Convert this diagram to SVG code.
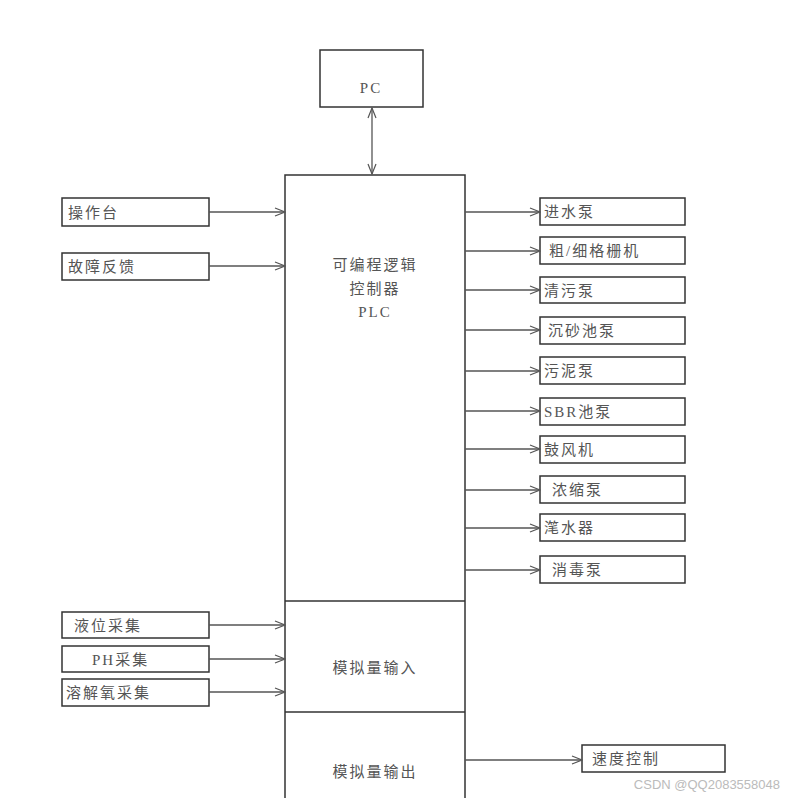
<svg xmlns="http://www.w3.org/2000/svg" width="796" height="798" viewBox="0 0 796 798">
<style>
.b{fill:#fff;stroke:#333;stroke-width:1.5}
.t{font-family:"Liberation Serif","Noto Sans CJK SC",serif;font-size:15px;fill:#555;letter-spacing:2px}
.c line{stroke:#555;stroke-width:1.3}
</style>
<defs><marker id="a" markerWidth="12" markerHeight="10" refX="11" refY="5" orient="auto-start-reverse" markerUnits="userSpaceOnUse"><path d="M1,1 L11,5 L1,9" fill="none" stroke="#555" stroke-width="1.2"/></marker></defs>
<rect width="796" height="798" fill="#fff"/>
<g id="pc"><rect class="b" x="320" y="50" width="103" height="57"/><text class="t" x="371" y="93" text-anchor="middle">PC</text></g>
<g id="plc"><rect class="b" x="285" y="175" width="180" height="640"/>
<line x1="285" y1="601" x2="465" y2="601" stroke="#333" stroke-width="1.5"/>
<line x1="285" y1="712" x2="465" y2="712" stroke="#333" stroke-width="1.5"/>
<text class="t" x="375" y="270" text-anchor="middle">可编程逻辑</text>
<text class="t" x="375" y="294" text-anchor="middle">控制器</text>
<text class="t" x="375" y="317" text-anchor="middle">PLC</text>
<text class="t" x="375" y="673" text-anchor="middle">模拟量输入</text>
<text class="t" x="375" y="777" text-anchor="middle">模拟量输出</text></g>
<g id="l1"><rect class="b" x="62" y="198" width="147" height="28"/><text class="t" x="68" y="218">操作台</text></g>
<g id="l2"><rect class="b" x="62" y="253" width="147" height="27"/><text class="t" x="68" y="272">故障反馈</text></g>
<g id="l3"><rect class="b" x="62" y="612" width="147" height="26"/><text class="t" x="74" y="631">液位采集</text></g>
<g id="l4"><rect class="b" x="62" y="646" width="147" height="26"/><text class="t" x="92" y="665">PH采集</text></g>
<g id="l5"><rect class="b" x="62" y="679" width="147" height="27"/><text class="t" x="66" y="698">溶解氧采集</text></g>
<g id="r1"><rect class="b" x="540" y="198" width="145" height="27"/><text class="t" x="544" y="217">进水泵</text></g>
<g id="r2"><rect class="b" x="540" y="237" width="145" height="27"/><text class="t" x="549" y="256">粗/细格栅机</text></g>
<g id="r3"><rect class="b" x="540" y="277" width="145" height="26"/><text class="t" x="544" y="296">清污泵</text></g>
<g id="r4"><rect class="b" x="540" y="317" width="145" height="27"/><text class="t" x="548" y="336">沉砂池泵</text></g>
<g id="r5"><rect class="b" x="540" y="357" width="145" height="27"/><text class="t" x="544" y="376">污泥泵</text></g>
<g id="r6"><rect class="b" x="540" y="398" width="145" height="27"/><text class="t" x="544" y="417">SBR池泵</text></g>
<g id="r7"><rect class="b" x="540" y="436" width="145" height="27"/><text class="t" x="544" y="455">鼓风机</text></g>
<g id="r8"><rect class="b" x="540" y="476" width="145" height="27"/><text class="t" x="552" y="495">浓缩泵</text></g>
<g id="r9"><rect class="b" x="540" y="514" width="145" height="27"/><text class="t" x="544" y="533">滗水器</text></g>
<g id="r10"><rect class="b" x="540" y="556" width="145" height="27"/><text class="t" x="552" y="575">消毒泵</text></g>
<g id="r11"><rect class="b" x="582" y="745" width="143" height="27"/><text class="t" x="592" y="764">速度控制</text></g>
<g class="c">
<line x1="372" y1="108" x2="372" y2="174" marker-start="url(#a)" marker-end="url(#a)"/>
<line x1="209" y1="212" x2="285" y2="212" marker-end="url(#a)"/>
<line x1="209" y1="266" x2="285" y2="266" marker-end="url(#a)"/>
<line x1="209" y1="625" x2="285" y2="625" marker-end="url(#a)"/>
<line x1="209" y1="659" x2="285" y2="659" marker-end="url(#a)"/>
<line x1="209" y1="692" x2="285" y2="692" marker-end="url(#a)"/>
<line x1="465" y1="212" x2="540" y2="212" marker-end="url(#a)"/>
<line x1="465" y1="251" x2="540" y2="251" marker-end="url(#a)"/>
<line x1="465" y1="290" x2="540" y2="290" marker-end="url(#a)"/>
<line x1="465" y1="330" x2="540" y2="330" marker-end="url(#a)"/>
<line x1="465" y1="371" x2="540" y2="371" marker-end="url(#a)"/>
<line x1="465" y1="411" x2="540" y2="411" marker-end="url(#a)"/>
<line x1="465" y1="449" x2="540" y2="449" marker-end="url(#a)"/>
<line x1="465" y1="490" x2="540" y2="490" marker-end="url(#a)"/>
<line x1="465" y1="528" x2="540" y2="528" marker-end="url(#a)"/>
<line x1="465" y1="570" x2="540" y2="570" marker-end="url(#a)"/>
<line x1="465" y1="760" x2="582" y2="760" marker-end="url(#a)"/>
</g>
<text x="780" y="789" text-anchor="end" font-family="Liberation Sans,sans-serif" font-size="13" fill="#bbb">CSDN @QQ2083558048</text>
</svg>
